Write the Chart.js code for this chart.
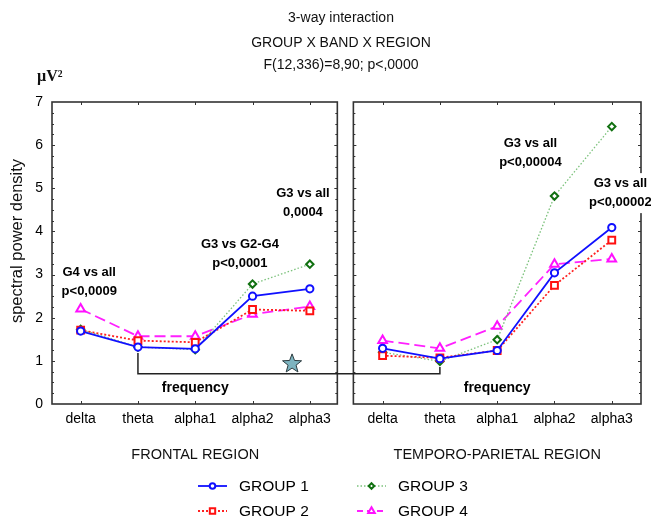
<!DOCTYPE html>
<html><head><meta charset="utf-8">
<script src="https://cdn.jsdelivr.net/npm/chart.js"></script>
<style>html,body{margin:0;padding:0;background:#fff}#wrap{width:651px;height:518px;position:relative}canvas{display:block}</style>
</head><body><div id="wrap"><canvas id="c" width="651" height="518"></canvas></div>
<script>
// ---- data ----
const bands = ['delta', 'theta', 'alpha1', 'alpha2', 'alpha3'];
const regions = ['FRONTAL REGION', 'TEMPORO-PARIETAL REGION'];
const groups = ['GROUP 1', 'GROUP 2', 'GROUP 3', 'GROUP 4'];
const yTicks = [0, 1, 2, 3, 4, 5, 6, 7];
const frontalG1 = [1.69, 1.32, 1.28, 2.50, 2.67];
const frontalG2 = [1.71, 1.47, 1.43, 2.19, 2.16];
const frontalG3 = [1.73, 1.32, 1.26, 2.78, 3.24];
const frontalG4 = [2.20, 1.57, 1.57, 2.08, 2.26];
const temporalG1 = [1.29, 1.05, 1.24, 3.04, 4.09];
const temporalG2 = [1.12, 1.07, 1.24, 2.75, 3.80];
const temporalG3 = [1.20, 0.99, 1.49, 4.82, 6.43];
const temporalG4 = [1.47, 1.29, 1.80, 3.24, 3.36];
const titleLines = ['3-way interaction', 'GROUP X BAND X REGION', 'F(12,336)=8,90; p<,0000'];
const yTitle = 'spectral power density';
const unitLabel = 'µV²';
const bracketLabel = 'frequency';
// annotations: panel, band position, value level, lines
const annotations = [
  {panel: 0, pos: 0.15, level: 3.04, lines: ['G4 vs all', 'p<0,0009']},
  {panel: 0, pos: 2.78, level: 3.71, lines: ['G3 vs G2-G4', 'p<0,0001']},
  {panel: 0, pos: 3.88, level: 4.87, lines: ['G3 vs all', '0,0004']},
  {panel: 1, pos: 2.58, level: 6.03, lines: ['G3 vs all', 'p<0,00004']},
  {panel: 1, pos: 4.15, level: 5.12, lines: ['G3 vs all', 'p<0,00002'], bg: true}
];

// ---- layout helpers ----
const RIGHT_OFFSET = 5.27;
const panelOffset = [0, RIGHT_OFFSET];
const FONT = '"Liberation Sans", Arial, Helvetica, sans-serif';

const styles = [
  {color: '#1010ff', point: '#1010ff', dash: [], width: 1.8, style: 'circle', r: 3.6},
  {color: '#ff2020', point: '#ff1010', dash: [2, 2], width: 1.8, style: 'rect', r: 4.8},
  {color: '#7cc27c', point: '#107010', dash: [1.5, 2], width: 1.3, style: 'rectRot', r: 3.7},
  {color: '#ff20ff', point: '#ff10ff', dash: [11, 5], width: 1.8, style: 'triangle', r: 5}
];
const seriesByPanel = [
  [frontalG1, frontalG2, frontalG3, frontalG4],
  [temporalG1, temporalG2, temporalG3, temporalG4]
];

const datasets = [];
seriesByPanel.forEach((arr, p) => {
  arr.forEach((vals, g) => {
    const s = styles[g];
    datasets.push({
      label: groups[g] + (p ? ' (TP)' : ''),
      data: vals.map((v, i) => ({x: i + panelOffset[p], y: v})),
      borderColor: s.color,
      borderWidth: s.width,
      borderDash: s.dash,
      pointStyle: s.style,
      pointRadius: s.r,
      pointBorderColor: s.point,
      pointBackgroundColor: '#ffffff',
      pointBorderWidth: 2,
      tension: 0,
      fill: false,
      order: g
    });
  });
});

const tickPositions = [];
const tickNames = [];
panelOffset.forEach(off => bands.forEach((b, i) => { tickPositions.push(i + off); tickNames.push(b); }));

function drawMarker(ctx, style, x, y, r) {
  ctx.beginPath();
  if (style === 'circle') {
    ctx.arc(x, y, r, 0, Math.PI * 2);
  } else if (style === 'rect') {
    const s = r * Math.SQRT1_2;
    ctx.rect(x - s, y - s, 2 * s, 2 * s);
  } else if (style === 'rectRot') {
    ctx.moveTo(x, y - r); ctx.lineTo(x + r, y); ctx.lineTo(x, y + r); ctx.lineTo(x - r, y); ctx.closePath();
  } else if (style === 'triangle') {
    for (let k = 0; k < 3; k++) {
      const a = k * 2 * Math.PI / 3;
      const px = x + Math.sin(a) * r, py = y - Math.cos(a) * r;
      k ? ctx.lineTo(px, py) : ctx.moveTo(px, py);
    }
    ctx.closePath();
  }
  ctx.fill(); ctx.stroke();
}

function seg(ctx, x1, y1, x2, y2) { ctx.beginPath(); ctx.moveTo(x1, y1); ctx.lineTo(x2, y2); ctx.stroke(); }

const deco = {
  id: 'deco',
  beforeDatasetsDraw(chart) {
    const {ctx, scales: {x, y}} = chart;
    ctx.save();
    const t = y.getPixelForValue(7), b = y.getPixelForValue(0);
    const panelEdges = [[-0.5, 4.48], [RIGHT_OFFSET - 0.51, RIGHT_OFFSET + 4.51]];
    panelEdges.forEach((pe, p) => {
      const l = x.getPixelForValue(pe[0]), r = x.getPixelForValue(pe[1]);
      ctx.strokeStyle = '#333'; ctx.lineWidth = 1.6; ctx.setLineDash([]);
      ctx.strokeRect(l, t, r - l, b - t);
      ctx.lineWidth = 1;
      for (let v = 0.25; v < 7; v += 0.25) {
        const py = Math.round(y.getPixelForValue(v)) + 0.5;
        const len = Math.abs(v - Math.round(v)) < 1e-6 ? 3 : 2;
        seg(ctx, l, py, l + len, py); seg(ctx, r, py, r - len, py);
      }
      bands.forEach((bn, i) => {
        const px = Math.round(x.getPixelForValue(i + panelOffset[p])) + 0.5;
        seg(ctx, px, b, px, b - 3); seg(ctx, px, t, px, t + 3);
      });
    });
    // frequency bracket
    ctx.strokeStyle = '#222'; ctx.lineWidth = 1.5;
    const xl = x.getPixelForValue(1), xr = x.getPixelForValue(1 + RIGHT_OFFSET);
    const yb = y.getPixelForValue(0.70);
    ctx.beginPath();
    ctx.moveTo(xl, y.getPixelForValue(1.18)); ctx.lineTo(xl, yb); ctx.lineTo(xr, yb); ctx.lineTo(xr, y.getPixelForValue(0.86));
    ctx.stroke();
    // star
    const sx = x.getPixelForValue(3.69), sy = y.getPixelForValue(0.93);
    ctx.beginPath();
    for (let k = 0; k < 10; k++) {
      const rr = k % 2 ? 4.2 : 10;
      const a = k * Math.PI / 5;
      const px = sx + Math.sin(a) * rr, py = sy - Math.cos(a) * rr;
      k ? ctx.lineTo(px, py) : ctx.moveTo(px, py);
    }
    ctx.closePath();
    ctx.fillStyle = '#7db4c0'; ctx.fill();
    ctx.strokeStyle = '#2b3a3e'; ctx.lineWidth = 1; ctx.stroke();
    // frequency labels
    ctx.fillStyle = '#000'; ctx.font = 'bold 14px ' + FONT; ctx.textAlign = 'center'; ctx.textBaseline = 'middle';
    ctx.fillText(bracketLabel, x.getPixelForValue(2), 388);
    ctx.fillText(bracketLabel, x.getPixelForValue(2 + RIGHT_OFFSET), 388);
    ctx.restore();
  },
  afterDatasetsDraw(chart) {
    const {ctx, scales: {x, y}} = chart;
    ctx.save();
    ctx.textAlign = 'center'; ctx.textBaseline = 'middle';
    // annotations
    ctx.font = 'bold 13px ' + FONT;
    annotations.forEach(a => {
      const cx = x.getPixelForValue(a.pos + panelOffset[a.panel]);
      const cy = y.getPixelForValue(a.level);
      if (a.bg) {
        const w = Math.max(...a.lines.map(s => ctx.measureText(s).width)) + 4;
        ctx.fillStyle = '#fff';
        ctx.fillRect(cx - w / 2, cy - 10, w, 19 * a.lines.length + 2);
      }
      ctx.fillStyle = '#000';
      a.lines.forEach((s, k) => ctx.fillText(s, cx, cy + k * 19));
    });
    // titles
    ctx.font = '14px ' + FONT; ctx.fillStyle = '#111';
    const ty = [18, 43, 65];
    titleLines.forEach((s, k) => ctx.fillText(s, 341, ty[k]));
    // unit label
    ctx.font = 'bold 16px "Liberation Serif", "Times New Roman", serif'; ctx.textAlign = 'left';
    ctx.fillText(unitLabel, 37, 77);
    // y title
    ctx.save();
    ctx.translate(17, 241); ctx.rotate(-Math.PI / 2);
    ctx.font = '16.5px ' + FONT; ctx.textAlign = 'center';
    ctx.fillText(yTitle, 0, 0);
    ctx.restore();
    // region labels
    ctx.font = '14.5px ' + FONT; ctx.textAlign = 'center';
    regions.forEach((r, p) => ctx.fillText(r, x.getPixelForValue(2 + panelOffset[p]), 455));
    // legend
    const legendPos = [[198, 486], [198, 511], [357, 486], [357, 511]];
    const legendR = [2.8, 3.8, 2.8, 3.8];
    groups.forEach((g, k) => {
      const s = styles[k];
      const [lx, ly] = legendPos[k];
      ctx.strokeStyle = s.color; ctx.lineWidth = s.width; ctx.setLineDash(k === 3 ? [6, 4] : s.dash);
      seg(ctx, lx, ly, lx + 29, ly);
      ctx.setLineDash([]);
      ctx.strokeStyle = s.point; ctx.fillStyle = '#fff'; ctx.lineWidth = 2;
      drawMarker(ctx, s.style, lx + 14.5, ly, legendR[k]);
      ctx.fillStyle = '#000'; ctx.font = '15.5px ' + FONT; ctx.textAlign = 'left';
      ctx.fillText(g, lx + 41, ly + 1);
    });
    ctx.restore();
  }
};

new Chart(document.getElementById('c'), {
  type: 'line',
  data: {datasets},
  options: {
    responsive: false,
    animation: false,
    devicePixelRatio: 1,
    layout: {padding: {top: 102, right: 10, left: 0, bottom: 0}},
    plugins: {legend: {display: false}, tooltip: {enabled: false}, title: {display: false}},
    scales: {
      x: {
        type: 'linear', min: -0.5, max: RIGHT_OFFSET + 4.51,
        grid: {display: false, drawTicks: false}, border: {display: false},
        afterBuildTicks: axis => { axis.ticks = tickPositions.map(v => ({value: v})); },
        afterFit: axis => { axis.height = 114; },
        ticks: {
          autoSkip: false, maxRotation: 0, padding: 7, color: '#000',
          font: {family: FONT, size: 14},
          callback: (v, i) => tickNames[i]
        }
      },
      y: {
        type: 'linear', min: 0, max: 7,
        grid: {display: false, drawTicks: false}, border: {display: false},
        afterBuildTicks: axis => { axis.ticks = yTicks.map(v => ({value: v})); },
        afterFit: axis => { axis.width = 52; },
        ticks: {padding: 9, color: '#000', font: {family: FONT, size: 14}}
      }
    }
  },
  plugins: [deco]
});
</script>
</body></html>
